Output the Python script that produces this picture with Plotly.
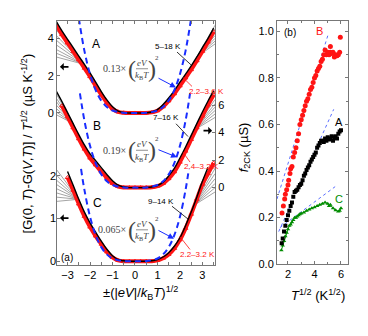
import plotly.graph_objects as go

# ---- data ----
# panel (a): scaled curves, x = +-(|eV|/kBT)^1/2
XG = [-3.5, -3.25, -3.0, -2.75, -2.5, -2.25, -2.0, -1.75, -1.5, -1.25, -1.0, -0.75, -0.5, -0.25, 0.0,
      0.25, 0.5, 0.75, 1.0, 1.25, 1.5, 1.75, 2.0, 2.25, 2.5, 2.75, 3.0, 3.25, 3.5]

a_black = [4.9, 4.4, 3.95, 3.5, 3.05, 2.6, 2.15, 1.65, 1.15, 0.7, 0.33, 0.1, 0.02, 0.0, 0.0,
           0.0, 0.01, 0.05, 0.18, 0.45, 0.8, 1.2, 1.65, 2.08, 2.52, 3.0, 3.5, 4.0, 4.55]
a_red = [4.7, 4.2, 3.75, 3.3, 2.85, 2.4, 1.95, 1.45, 0.98, 0.55, 0.22, 0.06, 0.01, 0.0, 0.0,
         0.0, 0.0, 0.03, 0.12, 0.33, 0.65, 1.03, 1.45, 1.88, 2.32, 2.8, 3.3, 3.8, 4.35]
b_black = [7.0, 6.25, 5.45, 4.65, 3.85, 3.1, 2.45, 1.95, 1.45, 0.95, 0.5, 0.18, 0.04, 0.0, 0.0,
           0.0, 0.01, 0.04, 0.15, 0.4, 0.85, 1.4, 2.15, 2.95, 3.8, 4.65, 5.5, 6.3, 7.05]
b_red = [None, 5.95, 5.15, 4.35, 3.55, 2.8, 2.15, 1.65, 1.15, 0.7, 0.3, 0.08, 0.01, 0.0, 0.0,
         0.0, 0.0, 0.02, 0.1, 0.3, 0.65, 1.15, 1.85, 2.65, 3.5, 4.35, 5.2, 6.0, 6.75]
c_black = [None, None, 2.1, 1.78, 1.45, 1.15, 0.9, 0.68, 0.47, 0.28, 0.13, 0.04, 0.01, 0.0, 0.0,
           0.0, 0.0, 0.01, 0.04, 0.1, 0.2, 0.35, 0.55, 0.83, 1.15, 1.5, 1.87, 2.2, None]
c_red = [None, None, 1.96, 1.66, 1.34, 1.05, 0.8, 0.59, 0.4, 0.22, 0.09, 0.02, 0.0, 0.0, 0.0,
         0.0, 0.0, 0.0, 0.02, 0.07, 0.16, 0.3, 0.5, 0.77, 1.1, 1.45, 1.8, 2.05, 2.3]

# fans of higher-temperature curves: (apex x, apex y, edge x, edge values)
a_fans = [(-2.25, 2.6, -3.5, [4.75, 4.45, 4.15, 3.9, 3.65, 3.4, 3.2, 3.0]),
          (2.75, 3.0, 3.56, [4.7, 4.5, 4.3, 4.15, 4.0, 3.85, 3.7])]
b_fans = [(-2.75, 4.65, -3.5, [6.8, 6.5, 6.25, 6.0, 5.75, 5.5, 5.3]),
          (2.6, 4.15, 3.56, [7.0, 6.7, 6.4, 6.1, 5.85, 5.6, 5.35, 5.1])]
c_fans = [(-2.5, 1.45, -3.5, [2.15, 2.02, 1.9, 1.8, 1.7, 1.6, 1.5, 1.4]),
          (2.6, 1.3, 3.56, [2.3, 2.17, 2.05, 1.93, 1.82, 1.72, 1.62])]

# quadratic-in-V guides (blue dashed)
a_fit_x = [-2.5, -2.25, -2.0, -1.75, -1.5, -1.25, -1.0, -0.5, 0.0, 0.5, 1.0, 1.25, 1.5, 1.75, 2.0, 2.25, 2.5]
a_fit_y = [5.08, 3.33, 2.08, 1.22, 0.66, 0.32, 0.13, 0.01, 0.0, 0.01, 0.13, 0.32, 0.66, 1.22, 2.08, 3.33, 5.08]
b_fit_x = [-2.45, -2.25, -2.0, -1.75, -1.5, -1.25, -1.0, -0.5, 0.0, 0.5, 1.0, 1.25, 1.5, 1.75, 2.0, 2.25, 2.45]
b_fit_y = [6.85, 4.87, 3.04, 1.78, 0.96, 0.46, 0.19, 0.01, 0.0, 0.01, 0.19, 0.46, 0.96, 1.78, 3.04, 4.87, 6.85]
c_fit_x = [-2.4, -2.25, -2.0, -1.75, -1.5, -1.25, -1.0, -0.5, 0.0, 0.5, 1.0, 1.25, 1.5, 1.75, 2.0, 2.25, 2.4]
c_fit_y = [2.16, 1.67, 1.04, 0.61, 0.33, 0.16, 0.065, 0.004, 0.0, 0.004, 0.065, 0.16, 0.33, 0.61, 1.04, 1.67, 2.16]

# panel (b): f_2CK vs T^1/2
b_T = [1.55, 1.65, 1.75, 1.8, 1.9, 2.0, 2.05, 2.15, 2.2, 2.3, 2.4, 2.5, 2.6, 2.7, 2.8, 2.9, 3.0, 3.1,
       3.2, 3.3, 3.4, 3.5, 3.6, 3.7, 3.8, 3.9, 4.0, 4.1, 4.2, 4.3, 4.4, 4.5, 4.6, 4.7, 4.8, 4.9, 5.0,
       5.1, 5.2, 5.2, 5.3, 5.4, 5.5, 5.6, 5.7, 5.8, 5.9, 5.95]
b_f = [0.22, 0.25, 0.28, 0.3, 0.32, 0.34, 0.36, 0.39, 0.41, 0.42, 0.46, 0.48, 0.5, 0.53, 0.56, 0.6, 0.62, 0.64,
       0.66, 0.68, 0.7, 0.71, 0.73, 0.75, 0.76, 0.78, 0.8, 0.81, 0.83, 0.84, 0.85, 0.87, 0.88, 0.9, 0.92, 0.9, 0.91,
       0.9, 0.91, 0.935, 0.905, 0.91, 0.89, 0.9, 0.895, 0.9, 0.91, 0.975]
a_T = [1.52, 1.6, 1.7, 1.8, 1.9, 2.0, 2.1, 2.2, 2.3, 2.4, 2.5, 2.6, 2.7, 2.8, 2.9, 3.0, 3.1, 3.2, 3.3, 3.4,
       3.5, 3.6, 3.7, 3.8, 3.9, 4.0, 4.1, 4.2, 4.3, 4.4, 4.5, 4.6, 4.7, 4.8, 4.9, 5.0, 5.1, 5.2, 5.3, 5.4,
       5.5, 5.6, 5.7, 5.8, 5.9, 6.0]
a_f = [0.09, 0.11, 0.14, 0.165, 0.19, 0.21, 0.23, 0.25, 0.265, 0.29, 0.31, 0.315, 0.32, 0.33, 0.34, 0.345,
       0.36, 0.38, 0.39, 0.405, 0.415, 0.425, 0.44, 0.45, 0.46, 0.47, 0.48, 0.5, 0.51, 0.52, 0.53, 0.53, 0.525,
       0.54, 0.53, 0.545, 0.535, 0.54, 0.55, 0.53, 0.545, 0.55, 0.54, 0.56, 0.57, 0.575]
c_T = [1.5, 1.6, 1.7, 1.8, 1.9, 2.0, 2.1, 2.2, 2.3, 2.4, 2.5, 2.6, 2.7, 2.8, 2.9, 3.0, 3.2, 3.4, 3.6, 3.8,
       4.0, 4.2, 4.4, 4.6, 4.8, 5.0, 5.1, 5.2, 5.4, 5.6, 5.8, 5.9, 6.0]
c_f = [0.06, 0.08, 0.1, 0.12, 0.135, 0.15, 0.165, 0.17, 0.18, 0.19, 0.2, 0.2, 0.205, 0.21, 0.215, 0.218,
       0.222, 0.23, 0.235, 0.24, 0.245, 0.25, 0.255, 0.26, 0.265, 0.26, 0.25, 0.255, 0.24, 0.232, 0.226, 0.23, 0.24]
# linear fits (dotted)
fit_b_T, fit_b_f = [1.17, 5.05], [0.28, 0.99]
fit_a_T, fit_a_f = [1.3, 5.45], [0.14, 0.665]
fit_c_T, fit_c_f = [1.39, 5.56], [0.157, 0.333]

# ---- figure ----
W, H = 368, 336
FONT = 'Arial, Liberation Sans, sans-serif'
SERIF = 'Liberation Serif, Times New Roman, serif'
BLUE = 'rgb(25,45,255)'
RED = 'rgb(255,20,20)'


def px(x):
    return x / W


def py(y):
    return 1 - y / H


fig = go.Figure()


def panel(yax, black, red, fans, fx, fy):
    for ax0, ay0, ex, ends in fans:
        for e in ends:
            fig.add_trace(go.Scatter(x=[ax0, ex], y=[ay0, e], yaxis=yax, mode='lines',
                                     line=dict(color='#666', width=0.6), hoverinfo='skip'))
    fig.add_trace(go.Scatter(x=XG, y=red, yaxis=yax, mode='lines+markers', line_shape='spline',
                             line=dict(color=RED, width=4),
                             marker=dict(symbol='triangle-up-open', size=4, color=RED)))
    fig.add_trace(go.Scatter(x=XG, y=black, yaxis=yax, mode='lines', line_shape='spline',
                             line=dict(color='black', width=1.4)))
    fig.add_trace(go.Scatter(x=fx, y=fy, yaxis=yax, mode='lines', line_shape='spline',
                             line=dict(color=BLUE, width=2, dash='6px,4px')))


panel('y', a_black, a_red, a_fans, a_fit_x, a_fit_y)
panel('y2', b_black, b_red, b_fans, b_fit_x, b_fit_y)
panel('y3', c_black, c_red, c_fans, c_fit_x, c_fit_y)

# panel (b)
for tx, fy_ in [(fit_b_T, fit_b_f), (fit_a_T, fit_a_f), (fit_c_T, fit_c_f)]:
    fig.add_trace(go.Scatter(x=tx, y=fy_, xaxis='x2', yaxis='y4', mode='lines',
                             line=dict(color='rgb(90,110,255)', width=1, dash='dot')))
fig.add_trace(go.Scatter(x=c_T, y=c_f, xaxis='x2', yaxis='y4', mode='lines+markers',
                         line=dict(color='rgb(0,140,0)', width=1),
                         marker=dict(symbol='triangle-up', size=4, color='rgb(0,140,0)')))
fig.add_trace(go.Scatter(x=a_T, y=a_f, xaxis='x2', yaxis='y4', mode='markers',
                         marker=dict(symbol='square', size=4, color='black')))
fig.add_trace(go.Scatter(x=b_T, y=b_f, xaxis='x2', yaxis='y4', mode='markers',
                         marker=dict(symbol='circle', size=5, color=RED)))

AX = dict(showgrid=False, zeroline=False, showline=True, linecolor='#777', linewidth=1,
          ticks='inside', ticklen=3, tickcolor='#777', tickfont=dict(size=11, color='black'))

fig.update_layout(
    width=W, height=H, showlegend=False, plot_bgcolor='white', paper_bgcolor='white',
    margin=dict(l=0, r=0, t=0, b=0), font=dict(family=FONT, color='black'),
    xaxis=dict(AX, domain=[px(57), px(215)], range=[-3.47, 3.56], dtick=1, mirror='allticks',
               anchor='y', minor=dict(ticks='inside', ticklen=2, dtick=0.5, tickcolor='#777')),
    yaxis=dict(AX, domain=[py(270), py(21)], range=[-8.16, 4.95], tickvals=[0, 2, 4], anchor='x'),
    yaxis2=dict(AX, overlaying='y', side='right', range=[-5.64, 12.14], tickvals=[0, 2, 4, 6], anchor='x'),
    yaxis3=dict(AX, overlaying='y', side='left', range=[-0.092, 5.63], tickvals=[0, 1, 2], anchor='x',
                showline=False),
    xaxis2=dict(AX, domain=[px(277), px(348)], range=[1.17, 6.53], tickvals=[2, 4, 6], mirror='allticks',
                anchor='y4', minor=dict(ticks='inside', ticklen=2, dtick=1, tickcolor='#777')),
    yaxis4=dict(AX, domain=[py(269), py(21)], range=[0, 1.046], dtick=0.2, tickformat='.1f',
                mirror='allticks', anchor='x2',
                minor=dict(ticks='inside', ticklen=2, dtick=0.1, tickcolor='#777')),
)

ann = []
shapes = []


def text(x, y, s, size=11, color='black', family=FONT, angle=0, xanchor='center'):
    ann.append(dict(x=px(x), y=py(y), xref='paper', yref='paper', text=s, showarrow=False,
                    font=dict(size=size, color=color, family=family), textangle=angle,
                    xanchor=xanchor, yanchor='middle'))


def seg(x0, y0, x1, y1, color='black', width=0.8):
    shapes.append(dict(type='line', xref='paper', yref='paper', x0=px(x0), y0=py(y0), x1=px(x1), y1=py(y1),
                       line=dict(color=color, width=width)))


def arrow(xh, yh, xt, yt, color='black', width=2, head=2, size=1.0):
    ann.append(dict(x=px(xh), y=py(yh), xref='paper', yref='paper', text='', showarrow=True,
                    ax=xt - xh, ay=yt - yh, arrowhead=head, arrowsize=size, arrowwidth=width,
                    arrowcolor=color))


def expression(coef, xr, yc):
    g = '#444'
    text(xr, yc, coef, size=10, color=g, family=SERIF, xanchor='right')
    text(xr + 4, yc, '(', size=24, color=g, family=SERIF)
    text(xr + 14, yc - 6, '<i>eV</i>', size=9, color=g, family=SERIF)
    seg(xr + 8, yc, xr + 20, yc, color=g, width=0.6)
    text(xr + 14, yc + 7, '<i>k</i><sub>B</sub><i>T</i>', size=9, color=g, family=SERIF)
    text(xr + 24, yc, ')', size=24, color=g, family=SERIF)
    text(xr + 29, yc - 11, '2', size=7, color=g, family=SERIF)


# panel (a) labels
text(96, 45, 'A', size=12)
text(97, 128, 'B', size=12)
text(97, 207, 'C', size=12)
text(67, 262, '(a)', size=10)

text(168, 47, '5\u201318 K', size=8)
seg(177, 53, 191, 66)
text(206, 93, '2.2\u20133.6 K', size=8, color=RED)
seg(192, 88, 183, 79, color=RED)
expression('0.13\u00d7', 128, 70)
arrow(176, 89, 157, 79, color=BLUE, width=1, head=2, size=1.2)

text(166, 120, '7\u201316 K', size=8)
seg(176, 126, 188, 139)
text(201, 170, '2.4\u20133.2 K', size=8, color=RED)
seg(190, 165, 183, 155, color=RED)
expression('0.19\u00d7', 128, 153)
arrow(177, 160, 157, 152, color=BLUE, width=1, head=2, size=1.2)

text(161, 205, '9\u201314 K', size=8)
seg(172, 210, 188, 223)
text(197, 259, '2.2\u20133.2 K', size=8, color=RED)
seg(190, 254, 180, 241, color=RED)
expression('0.065\u00d7', 128, 234)
arrow(174, 243, 157, 234, color=BLUE, width=1, head=2, size=1.2)

# axis-pointing arrows
arrow(60, 68, 70, 68, width=1.8, head=1, size=0.7)
arrow(212, 133, 202, 133, width=1.8, head=1, size=0.7)
arrow(60, 222, 70, 222, width=1.8, head=1, size=0.7)

# panel (b) labels
text(290, 33, '(b)', size=10)
text(319, 32, 'B', size=11, color=RED)
text(339, 124, 'A', size=11)
text(339, 203, 'C', size=11, color='rgb(0,140,0)')

# axis titles
text(27, 146, '[G(0, <i>T</i>)-G(<i>V</i>,<i>T</i>)] / <i>T</i><sup>1/2</sup> (\u00b5S K<sup>-1/2</sup>)',
     size=13, angle=-90)
text(140, 298, '\u00b1(|<i>eV</i>|/<i>k</i><sub>B</sub><i>T</i>)<sup>1/2</sup>', size=13)
text(244, 150, '<i>f</i><sub>2CK</sub> (\u00b5S)', size=13, angle=-90)
text(318, 300, '<i>T</i><sup>1/2</sup> (K<sup>1/2</sup>)', size=13)

fig.update_layout(annotations=ann, shapes=shapes)
fig.write_html("out.html", config={'displayModeBar': False},
               post_script="document.body.style.margin='0';")
